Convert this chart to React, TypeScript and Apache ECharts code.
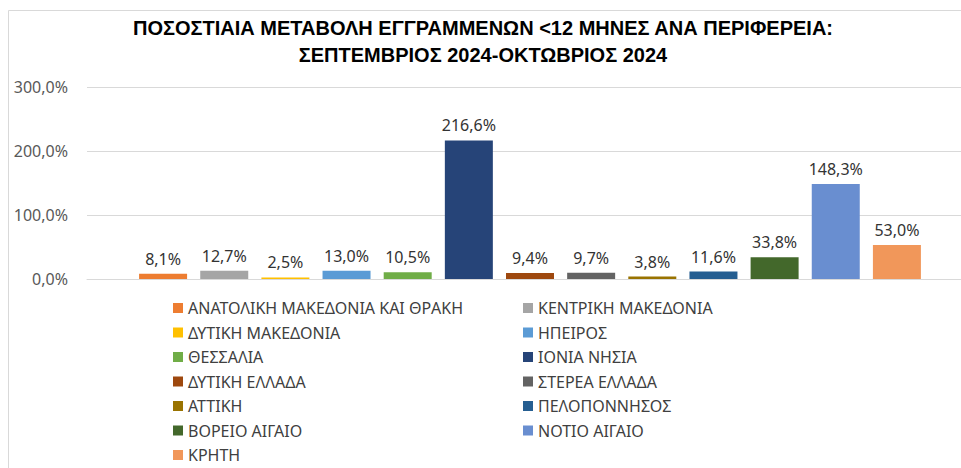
import React, { useEffect, useRef } from "react";
import * as echarts from "echarts";

const regions: string[] = [
  "ΑΝΑΤΟΛΙΚΗ ΜΑΚΕΔΟΝΙΑ ΚΑΙ ΘΡΑΚΗ",
  "ΚΕΝΤΡΙΚΗ ΜΑΚΕΔΟΝΙΑ",
  "ΔΥΤΙΚΗ ΜΑΚΕΔΟΝΙΑ",
  "ΗΠΕΙΡΟΣ",
  "ΘΕΣΣΑΛΙΑ",
  "ΙΟΝΙΑ ΝΗΣΙΑ",
  "ΔΥΤΙΚΗ ΕΛΛΑΔΑ",
  "ΣΤΕΡΕΑ ΕΛΛΑΔΑ",
  "ΑΤΤΙΚΗ",
  "ΠΕΛΟΠΟΝΝΗΣΟΣ",
  "ΒΟΡΕΙΟ ΑΙΓΑΙΟ",
  "ΝΟΤΙΟ ΑΙΓΑΙΟ",
  "ΚΡΗΤΗ",
];

const changePct: number[] = [8.1, 12.7, 2.5, 13.0, 10.5, 216.6, 9.4, 9.7, 3.8, 11.6, 33.8, 148.3, 53.0];

const colors: string[] = [
  "#ED7D31",
  "#A5A5A5",
  "#FFC000",
  "#5B9BD5",
  "#70AD47",
  "#264478",
  "#9E480E",
  "#636363",
  "#997300",
  "#255E91",
  "#43682B",
  "#698ED0",
  "#F1975A",
];

const categories: string[] = ["Σεπτέμβριος 2024-Οκτώβριος 2024"];

const titleLines: string[] = [
  "ΠΟΣΟΣΤΙΑΙΑ ΜΕΤΑΒΟΛΗ ΕΓΓΡΑΜΜΕΝΩΝ <12 ΜΗΝΕΣ ΑΝΑ ΠΕΡΙΦΕΡΕΙΑ:",
  "ΣΕΠΤΕΜΒΡΙΟΣ 2024-ΟΚΤΩΒΡΙΟΣ 2024",
];

const yTicks = { min: 0, max: 300, interval: 100 };

const fmt = (v: number) => v.toFixed(1).replace(".", ",") + "%";

const FONT = "'Noto Sans', 'Liberation Sans', sans-serif";

export default function App() {
  const ref = useRef<HTMLDivElement>(null);

  useEffect(() => {
    if (!ref.current) return;
    const chart = echarts.init(ref.current, undefined, { renderer: "svg" });

    const legendText = {
      fontFamily: FONT,
      fontSize: 16,
      color: "#404040",
      lineHeight: 16,
    };

    const option: any = {
      animation: false,
      backgroundColor: "#ffffff",
      graphic: [
        {
          type: "rect",
          silent: true,
          shape: { x: 8.5, y: 10.5, width: 1200, height: 1200 },
          style: { fill: "none", stroke: "#D9D9D9", lineWidth: 1 },
          z: -10,
        },
        {
          type: "text",
          silent: true,
          x: 483,
          y: 14,
          style: {
            text: titleLines.join("\n"),
            align: "center",
            verticalAlign: "top",
            fontFamily: "'Liberation Sans', Arial, sans-serif",
            fontWeight: "bold",
            fontSize: 20,
            lineHeight: 27,
            fill: "#000000",
          },
        },
      ],
      legend: [
        {
          orient: "vertical",
          left: 173,
          top: 300,
          icon: "rect",
          itemWidth: 10,
          itemHeight: 10,
          itemGap: 8.5,
          padding: 0,
          selectedMode: false,
          textStyle: legendText,
          data: regions.filter((_, i) => i % 2 === 0),
        },
        {
          orient: "vertical",
          left: 523,
          top: 300,
          icon: "rect",
          itemWidth: 10,
          itemHeight: 10,
          itemGap: 8.5,
          padding: 0,
          selectedMode: false,
          textStyle: legendText,
          data: regions.filter((_, i) => i % 2 === 1),
        },
      ],
      grid: { left: 87, top: 87, width: 886, height: 192, containLabel: false },
      xAxis: {
        type: "category",
        data: categories,
        axisLine: { show: true, lineStyle: { color: "#D9D9D9", width: 1 } },
        axisTick: { show: false },
        axisLabel: { show: false },
        splitLine: { show: false },
      },
      yAxis: {
        type: "value",
        min: yTicks.min,
        max: yTicks.max,
        interval: yTicks.interval,
        axisLine: { show: false },
        axisTick: { show: false },
        splitLine: { show: true, lineStyle: { color: "#D9D9D9", width: 1 } },
        axisLabel: {
          margin: 19,
          fontFamily: FONT,
          fontSize: 16,
          color: "#595959",
          formatter: (v: number) => fmt(v),
        },
      },
      series: regions.map((name, i) => ({
        name,
        type: "bar",
        data: [changePct[i]],
        barWidth: 48,
        barGap: "27.4%",
        itemStyle: { color: colors[i] },
        label: {
          show: true,
          position: "top",
          distance: 7,
          fontFamily: FONT,
          fontSize: 16,
          color: "#333333",
          formatter: (p: any) => fmt(p.value),
        },
      })),
    };

    chart.setOption(option);
    return () => chart.dispose();
  }, []);

  return (
    <div
      style={{
        position: "fixed",
        left: 0,
        top: 0,
        width: 961,
        height: 468,
        overflow: "hidden",
        background: "#ffffff",
      }}
    >
      <div ref={ref} style={{ width: 985, height: 468 }} />
    </div>
  );
}
